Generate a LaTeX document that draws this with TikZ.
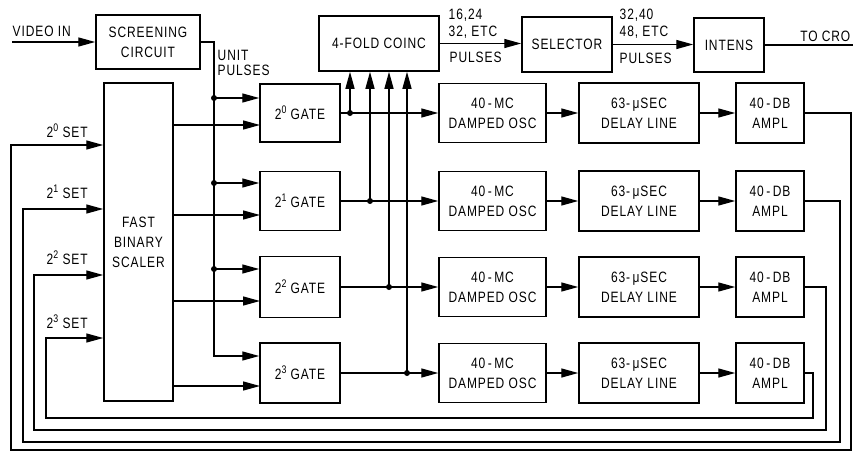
\documentclass[tikz,border=0pt]{standalone}
\usepackage{fontspec}
\setmainfont[FakeStretch=0.8,LetterSpace=6]{Liberation Sans}
\usetikzlibrary{arrows.meta}
\newcommand\sps[1]{\raisebox{0.8ex}{\fontsize{11}{11}\selectfont #1}}
\begin{document}
\begin{tikzpicture}[x=1pt,y=-1pt,line width=1.4pt,
  blk/.style={draw,line width=1.5pt,inner sep=0pt,align=center,font=\fontsize{15}{20}\selectfont},
  lbl/.style={inner sep=0pt,font=\fontsize{15}{18}\selectfont},
  arr/.style={-{Triangle[length=17pt,width=9pt]}},
  dot/.style={circle,fill,inner sep=0pt,minimum size=6pt}]
\useasboundingbox (0,0) rectangle (853,452);
\clip (0,0) rectangle (853,452);
% top row
\node[blk,minimum width=104pt,minimum height=54pt] (scr) at (148,42) {SCREENING\\CIRCUIT};
\node[lbl,anchor=west] (vin) at (12,31) {VIDEO IN};
\coordinate (vst) at (12,42);
\draw[arr] (vst) -- (vst -| scr.west);
\node[blk,minimum width=120pt,minimum height=55pt] (co) at (379,43.5) {4-FOLD COINC};
\node[blk,minimum width=90pt,minimum height=55pt] (sel) at (567,44.5) {SELECTOR};
\node[blk,minimum width=70pt,minimum height=54pt] (int) at (729,45) {INTENS};
\draw[arr] (co.east) -- (co.east -| sel.west);
\draw[arr] (sel.east) -- (sel.east -| int.west);
\coordinate (cro) at (853,45);
\draw (int.east) -- (cro);
\node[lbl,anchor=east] (tocro) at (851,36) {TO CRO};
\node[lbl,anchor=west] (l1a) at (448,15) {16,24};
\node[lbl,anchor=west] (l1b) at (448,32) {32, ETC};
\node[lbl,anchor=west] (l1c) at (449,57) {PULSES};
\node[lbl,anchor=west] (l2a) at (619,15) {32,40};
\node[lbl,anchor=west] (l2b) at (619,32) {48, ETC};
\node[lbl,anchor=west] (l2c) at (619,58) {PULSES};
\node[lbl,anchor=west] (up1) at (217,55) {UNIT};
\node[lbl,anchor=west] (up2) at (217,70) {PULSES};
% scaler
\node[blk,minimum width=69pt,minimum height=318pt] (sc) at (138.5,242) {FAST\\BINARY\\SCALER};
% gates
\node[blk,minimum width=80pt,minimum height=58pt] (g0) at (300,113) {2\sps{0} GATE};
\node[blk,minimum width=80pt,minimum height=59pt] (g1) at (300,201) {2\sps{1} GATE};
\node[blk,minimum width=80pt,minimum height=61pt] (g2) at (300,287) {2\sps{2} GATE};
\node[blk,minimum width=80pt,minimum height=60pt] (g3) at (300,373) {2\sps{3} GATE};
% chains
\foreach \i/\y in {0/113,1/201,2/287,3/373}{
  \node[blk,minimum width=107pt,minimum height=59pt] (o\i) at (492.5,\y) {40\,-\,MC\\DAMPED OSC};
  \node[blk,minimum width=120pt,minimum height=60pt] (de\i) at (639,\y) {63-\,μSEC\\DELAY LINE};
  \node[blk,minimum width=68pt,minimum height=60pt] (a\i) at (770,\y) {40\,-\,DB\\AMPL};
  \draw[arr] (g\i.east) -- (o\i.west);
  \draw[arr] (o\i.east) -- (de\i.west);
  \draw[arr] (de\i.east) -- (a\i.west);
}
% unit pulse bus
\coordinate (b0) at (214,98);
\coordinate (b1) at (214,183);
\coordinate (b2) at (214,269);
\coordinate (b3) at (214,356);
\draw[arr] (scr.east) -| (b3) -- (b3 -| g3.west);
\foreach \i in {0,1,2}{
  \node[dot] (bd\i) at (b\i) {};
  \draw[arr] (b\i) -- (b\i -| g\i.west);
}
% scaler outputs
\coordinate (s0) at (260,125);
\coordinate (s1) at (260,215);
\coordinate (s2) at (260,301);
\coordinate (s3) at (260,386);
\foreach \i in {0,1,2,3}{
  \draw[arr] (s\i -| sc.east) -- (s\i);
}
% coincidence taps
\node[dot] (d0) at (350,113) {};
\node[dot] (d1) at (370,201) {};
\node[dot] (d2) at (389,287) {};
\node[dot] (d3) at (407,373) {};
\foreach \i in {0,1,2,3}{
  \draw[arr] (d\i.center) -- (d\i.center |- co.south);
}
% set labels
\node[lbl,anchor=west] (set0) at (46,131) {2\sps{0} SET};
\node[lbl,anchor=west] (set1) at (46,192) {2\sps{1} SET};
\node[lbl,anchor=west] (set2) at (46,258) {2\sps{2} SET};
\node[lbl,anchor=west] (set3) at (46,322) {2\sps{3} SET};
% feedback loops
\coordinate (f0r) at (851,450); \coordinate (f0l) at (11,145);
\coordinate (f1r) at (840,442); \coordinate (f1l) at (23,209);
\coordinate (f2r) at (826,430); \coordinate (f2l) at (34,275);
\coordinate (f3r) at (813,418); \coordinate (f3l) at (46,338);
\foreach \i in {0,1,2,3}{
  \draw[arr] (a\i.east) -| (f\i r) -| (f\i l) -- (f\i l -| sc.west);
}
\end{tikzpicture}
\end{document}
